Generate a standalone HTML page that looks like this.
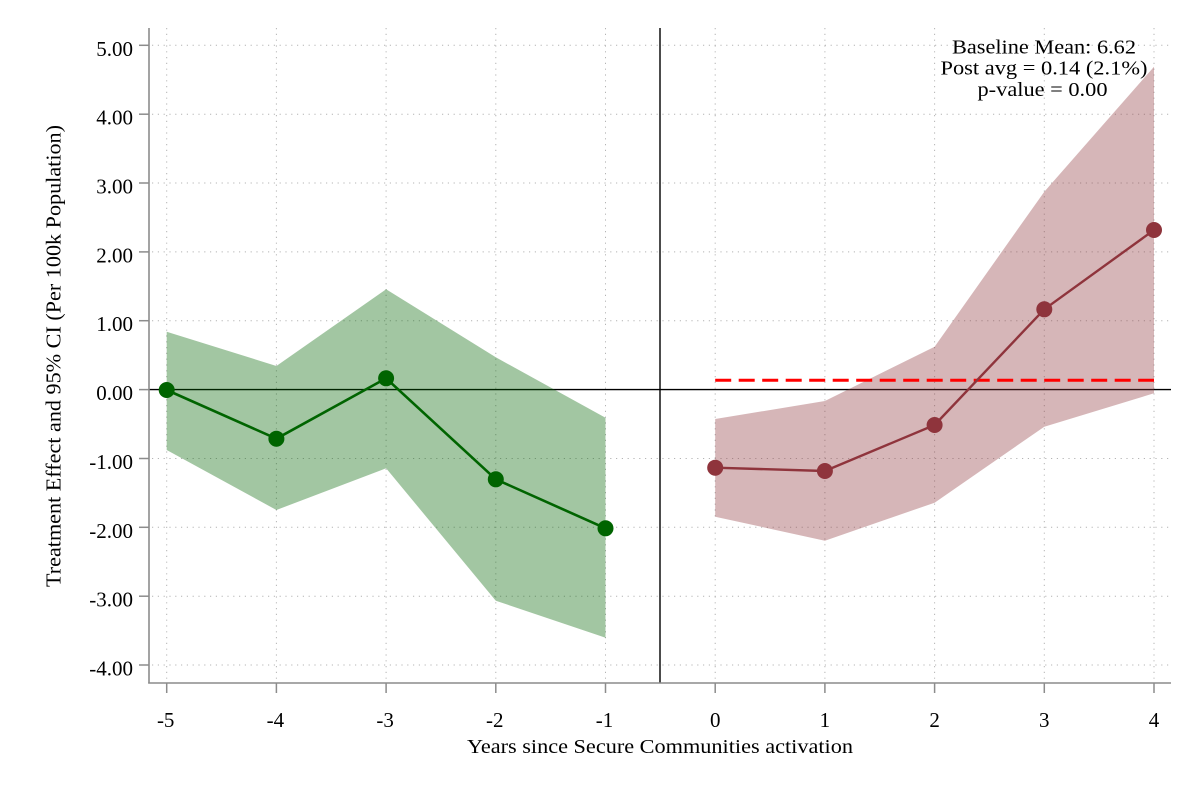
<!DOCTYPE html>
<html>
<head>
<meta charset="utf-8">
<style>
html,body{margin:0;padding:0;background:#fff;}
svg{display:block;}
text{font-family:"Liberation Serif","Times New Roman",serif;fill:#000;}
</style>
</head>
<body>
<svg width="1200" height="800" viewBox="0 0 1200 800" xmlns="http://www.w3.org/2000/svg">
<rect x="0" y="0" width="1200" height="800" fill="#fff"/>

<!-- grid lines -->
<g stroke="#b4b4b4" stroke-width="1" stroke-dasharray="1.2 4.6" fill="none">
  <line x1="152" y1="45.3" x2="1171" y2="45.3"/>
  <line x1="152" y1="114.2" x2="1171" y2="114.2"/>
  <line x1="152" y1="183.0" x2="1171" y2="183.0"/>
  <line x1="152" y1="251.9" x2="1171" y2="251.9"/>
  <line x1="152" y1="320.7" x2="1171" y2="320.7"/>
  <line x1="152" y1="458.5" x2="1171" y2="458.5"/>
  <line x1="152" y1="527.3" x2="1171" y2="527.3"/>
  <line x1="152" y1="596.2" x2="1171" y2="596.2"/>
  <line x1="152" y1="665.0" x2="1171" y2="665.0"/>

  <line x1="166.7" y1="28" x2="166.7" y2="681"/>
  <line x1="276.4" y1="28" x2="276.4" y2="681"/>
  <line x1="386.1" y1="28" x2="386.1" y2="681"/>
  <line x1="495.8" y1="28" x2="495.8" y2="681"/>
  <line x1="605.5" y1="28" x2="605.5" y2="681"/>
  <line x1="715.2" y1="28" x2="715.2" y2="681"/>
  <line x1="824.9" y1="28" x2="824.9" y2="681"/>
  <line x1="934.6" y1="28" x2="934.6" y2="681"/>
  <line x1="1044.3" y1="28" x2="1044.3" y2="681"/>
  <line x1="1154" y1="28" x2="1154" y2="681"/>
</g>

<!-- zero line and event line -->
<line x1="149" y1="389.6" x2="1171" y2="389.6" stroke="#000" stroke-width="1.4"/>
<line x1="660" y1="28" x2="660" y2="683" stroke="#000" stroke-width="1.4"/>

<!-- green CI -->
<polygon fill="rgb(0,100,0)" fill-opacity="0.365"
  points="166.7,331.7 276.4,366 386.1,289.3 495.8,357.3 605.5,417.7 605.5,637.7 495.8,600.7 386.1,468.3 276.4,510 166.7,450"/>
<!-- red CI -->
<polygon fill="rgb(143,55,60)" fill-opacity="0.365"
  points="715.2,419 824.9,401 934.6,346.7 1044.3,191.7 1154,66.7 1154,393.3 1044.3,426.7 934.6,502.7 824.9,540.7 715.2,516.7"/>

<!-- red dashed post avg -->
<line x1="715.2" y1="380.2" x2="1154" y2="380.2" stroke="#ff0000" stroke-width="3" stroke-dasharray="16 7.5"/>

<!-- green series -->
<polyline fill="none" stroke="#006400" stroke-width="2.6" stroke-linejoin="round"
  points="166.7,390 276.4,438.7 386.1,378.3 495.8,479.3 605.5,528.3"/>
<g fill="#006400">
  <circle cx="166.7" cy="390" r="8"/>
  <circle cx="276.4" cy="438.7" r="8"/>
  <circle cx="386.1" cy="378.3" r="8"/>
  <circle cx="495.8" cy="479.3" r="8"/>
  <circle cx="605.5" cy="528.3" r="8"/>
</g>

<!-- red series -->
<polyline fill="none" stroke="rgb(143,52,60)" stroke-width="2.4" stroke-linejoin="round"
  points="715.2,467.7 824.9,471 934.6,425 1044.3,309.3 1154,230"/>
<g fill="rgb(143,52,60)">
  <circle cx="715.2" cy="467.7" r="8"/>
  <circle cx="824.9" cy="471" r="8"/>
  <circle cx="934.6" cy="425" r="8"/>
  <circle cx="1044.3" cy="309.3" r="8"/>
  <circle cx="1154" cy="230" r="8"/>
</g>

<!-- axes -->
<line x1="149" y1="28" x2="149" y2="683.5" stroke="#8c8c8c" stroke-width="1.6"/>
<line x1="148.2" y1="683" x2="1171" y2="683" stroke="#8c8c8c" stroke-width="1.6"/>

<!-- y ticks -->
<g stroke="#8c8c8c" stroke-width="1.5">
  <line x1="139" y1="45.3" x2="149" y2="45.3"/>
  <line x1="139" y1="114.2" x2="149" y2="114.2"/>
  <line x1="139" y1="183.0" x2="149" y2="183.0"/>
  <line x1="139" y1="251.9" x2="149" y2="251.9"/>
  <line x1="139" y1="320.7" x2="149" y2="320.7"/>
  <line x1="139" y1="389.6" x2="149" y2="389.6"/>
  <line x1="139" y1="458.5" x2="149" y2="458.5"/>
  <line x1="139" y1="527.3" x2="149" y2="527.3"/>
  <line x1="139" y1="596.2" x2="149" y2="596.2"/>
  <line x1="139" y1="665.0" x2="149" y2="665.0"/>
  <line x1="166.7" y1="683" x2="166.7" y2="693"/>
  <line x1="276.4" y1="683" x2="276.4" y2="693"/>
  <line x1="386.1" y1="683" x2="386.1" y2="693"/>
  <line x1="495.8" y1="683" x2="495.8" y2="693"/>
  <line x1="605.5" y1="683" x2="605.5" y2="693"/>
  <line x1="715.2" y1="683" x2="715.2" y2="693"/>
  <line x1="824.9" y1="683" x2="824.9" y2="693"/>
  <line x1="934.6" y1="683" x2="934.6" y2="693"/>
  <line x1="1044.3" y1="683" x2="1044.3" y2="693"/>
  <line x1="1154" y1="683" x2="1154" y2="693"/>
</g>

<!-- y tick labels -->
<g font-size="21" text-anchor="end">
  <text x="133" y="55.8">5.00</text>
  <text x="133" y="124.7">4.00</text>
  <text x="133" y="193.5">3.00</text>
  <text x="133" y="262.4">2.00</text>
  <text x="133" y="331.2">1.00</text>
  <text x="133" y="400.1">0.00</text>
  <text x="133" y="469">-1.00</text>
  <text x="133" y="537.8">-2.00</text>
  <text x="133" y="606.7">-3.00</text>
  <text x="133" y="675.5">-4.00</text>
</g>

<!-- x tick labels -->
<g font-size="21" text-anchor="middle">
  <text x="165.7" y="727">-5</text>
  <text x="275.4" y="727">-4</text>
  <text x="385.1" y="727">-3</text>
  <text x="494.8" y="727">-2</text>
  <text x="604.5" y="727">-1</text>
  <text x="715.2" y="727">0</text>
  <text x="824.9" y="727">1</text>
  <text x="934.6" y="727">2</text>
  <text x="1044.3" y="727">3</text>
  <text x="1154" y="727">4</text>
</g>

<!-- axis titles -->
<text x="660" y="753" font-size="20" text-anchor="middle" textLength="386" lengthAdjust="spacingAndGlyphs">Years since Secure Communities activation</text>
<text transform="translate(60.5,356) rotate(-90)" x="0" y="0" font-size="21.5" text-anchor="middle" textLength="462" lengthAdjust="spacingAndGlyphs">Treatment Effect and 95% CI (Per 100k Population)</text>

<!-- annotation -->
<g font-size="20" text-anchor="middle">
  <text x="1044" y="53.3" textLength="184" lengthAdjust="spacingAndGlyphs">Baseline Mean: 6.62</text>
  <text x="1044" y="74.5" textLength="207" lengthAdjust="spacingAndGlyphs">Post avg = 0.14 (2.1%)</text>
  <text x="1042.5" y="96" textLength="130" lengthAdjust="spacingAndGlyphs">p-value = 0.00</text>
</g>
</svg>
</body>
</html>
